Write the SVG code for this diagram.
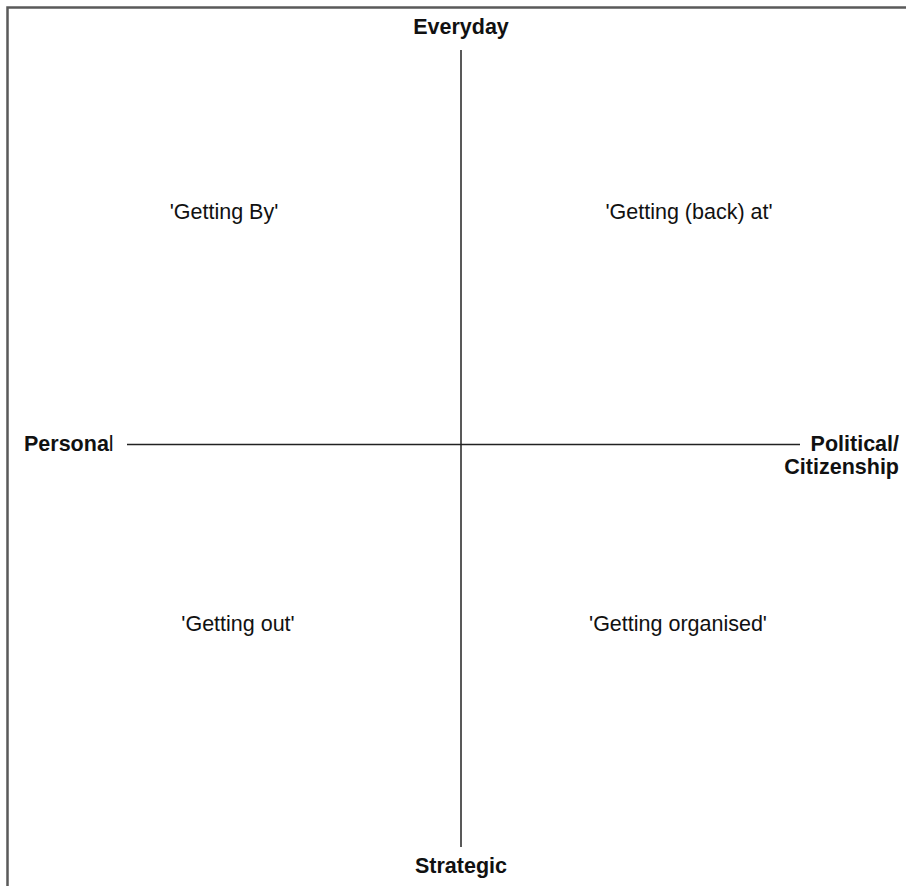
<svg xmlns="http://www.w3.org/2000/svg" width="906" height="886" viewBox="0 0 906 886">
<style>
.frame{fill:none;stroke:#5a5a5a;stroke-width:2.5}
.axis{stroke:#222;stroke-width:1.5;fill:none}
.ax{font-family:"Liberation Sans",Arial,sans-serif;font-weight:bold;font-size:21.5px;fill:#111}
.q{font-family:"Liberation Sans",Arial,sans-serif;font-size:21.5px;fill:#111;text-anchor:middle}
</style>
<rect width="906" height="886" fill="#fff"/>
<path class="frame" d="M7.5,886 V7.5 H906"/>
<g id="connectors">
<line class="axis" x1="461" y1="50" x2="461" y2="847"/>
<line class="axis" x1="127" y1="444.5" x2="800" y2="444.5"/>
</g>
<g id="everyday"><text class="ax" x="461" y="34" text-anchor="middle">Everyday</text></g>
<g id="strategic"><text class="ax" x="461" y="873" text-anchor="middle">Strategic</text></g>
<g id="personal"><text class="ax" x="24" y="450.5">Persona<tspan font-weight="normal">l</tspan></text></g>
<g id="political"><text class="ax" x="899" y="450.5" text-anchor="end">Political/</text><text class="ax" x="899" y="473.5" text-anchor="end">Citizenship</text></g>
<g id="getting-by"><text class="q" x="224" y="219">'Getting By'</text></g>
<g id="getting-back-at"><text class="q" x="689" y="219">'Getting (back) at'</text></g>
<g id="getting-out"><text class="q" x="238" y="631">'Getting out'</text></g>
<g id="getting-organised"><text class="q" x="678" y="631">'Getting organised'</text></g>
</svg>
